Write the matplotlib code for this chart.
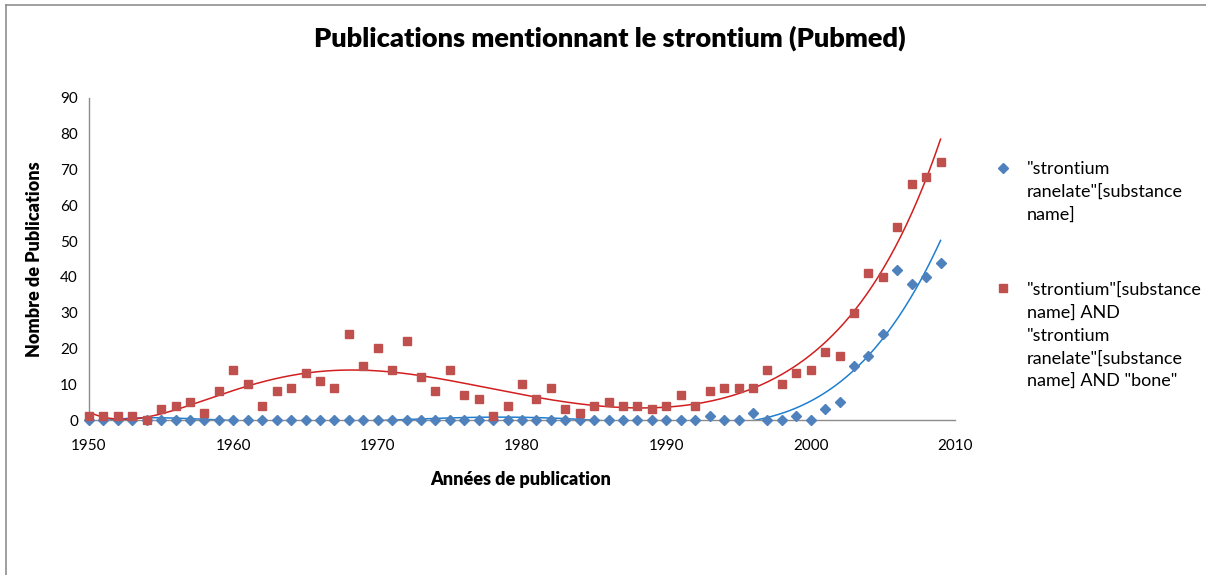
import numpy as np
import matplotlib
matplotlib.use("Agg")
import matplotlib.pyplot as plt
from matplotlib.lines import Line2D

plt.rcParams['font.family'] = ['Lato', 'DejaVu Sans']

years = list(range(1950, 2010))

ranelate = [0, 0, 0, 0, 0, 0, 0, 0, 0, 0,
            0, 0, 0, 0, 0, 0, 0, 0, 0, 0,
            0, 0, 0, 0, 0, 0, 0, 0, 0, 0,
            0, 0, 0, 0, 0, 0, 0, 0, 0, 0,
            0, 0, 0, 1, 0, 0, 2, 0, 0, 1,
            0, 3, 5, 15, 18, 24, 42, 38, 40, 44]

bone = [1, 1, 1, 1, 0, 3, 4, 5, 2, 8,
        14, 10, 4, 8, 9, 13, 11, 9, 24, 15,
        20, 14, 22, 12, 8, 14, 7, 6, 1, 4,
        10, 6, 9, 3, 2, 4, 5, 4, 4, 3,
        4, 7, 4, 8, 9, 9, 9, 14, 10, 13,
        14, 19, 18, 30, 41, 40, 54, 66, 68, 72]

label_ranelate = '"strontium\nranelate"[substance\nname]'
label_bone = '"strontium"[substance\nname] AND\n"strontium\nranelate"[substance\nname] AND "bone"'

title = "Publications mentionnant le strontium (Pubmed)"
xlabel = "Années de publication"
ylabel = "Nombre de Publications"
xticks = [1950, 1960, 1970, 1980, 1990, 2000, 2010]
yticks = [0, 10, 20, 30, 40, 50, 60, 70, 80, 90]

blue = "#4F81BD"
red = "#C0504D"
blue_trend = "#1E7FD0"
red_trend = "#D21E1E"
axis_grey = "#8C8C8C"

fig = plt.figure(figsize=(12.06, 5.75), dpi=100)
ax = fig.add_axes([89 / 1206, 1 - 420 / 575, (955 - 89) / 1206, (420 - 98) / 575])

x = np.array(years, dtype=float)


def poly_trend(values, degree=6):
    xc = (x - 1980.0) / 30.0
    coef = np.polyfit(xc, np.array(values, dtype=float), degree)
    xs = np.linspace(x[0], x[-1], 600)
    return xs, np.polyval(coef, (xs - 1980.0) / 30.0)


xs, ys = poly_trend(ranelate)
ax.plot(xs, ys, color=blue_trend, lw=1.1, zorder=2)
xs, ys = poly_trend(bone)
ax.plot(xs, ys, color=red_trend, lw=1.1, zorder=2)

ax.plot(years, ranelate, linestyle="none", marker="D", markersize=5,
        color=blue, markeredgecolor=blue, clip_on=False, zorder=3)
ax.plot(years, bone, linestyle="none", marker="s", markersize=6.2,
        color=red, markeredgecolor=red, clip_on=False, zorder=3)

ax.set_xlim(1950, 2010)
ax.set_ylim(0, 90)
ax.set_xticks(xticks)
ax.set_yticks(yticks)
ax.tick_params(length=0, labelsize=11, colors="black", pad=8)
ax.tick_params(axis="x", pad=14)
for side in ("top", "right"):
    ax.spines[side].set_visible(False)
for side in ("left", "bottom"):
    ax.spines[side].set_color(axis_grey)
    ax.spines[side].set_linewidth(1.0)

fig.text(610 / 1206, 1 - 38 / 575, title, ha="center", va="center",
         fontsize=19.5, fontweight="heavy")
fig.text(521 / 1206, 1 - 480 / 575, xlabel, ha="center", va="center",
         fontsize=13, fontweight="heavy")
fig.text(35 / 1206, 1 - 259 / 575, ylabel, ha="center", va="center",
         rotation=90, fontsize=13, fontweight="heavy")

# legend entries
fig.add_artist(Line2D([1003 / 1206], [1 - 168 / 575], marker="D", markersize=5,
                      color=blue, linestyle="none", transform=fig.transFigure))
fig.text(1027 / 1206, 1 - 161 / 575, label_ranelate, ha="left", va="top",
         fontsize=13, linespacing=1.5)
fig.add_artist(Line2D([1003 / 1206], [1 - 288 / 575], marker="s", markersize=6.2,
                      color=red, linestyle="none", transform=fig.transFigure))
fig.text(1027 / 1206, 1 - 282 / 575, label_bone, ha="left", va="top",
         fontsize=13, linespacing=1.5)

# chart frame
fig.add_artist(Line2D([6 / 1206, 6 / 1206], [0, 1 - 5 / 575], color="#8F8F8F",
                      lw=1.2, transform=fig.transFigure))
fig.add_artist(Line2D([6 / 1206, 1], [1 - 5 / 575, 1 - 5 / 575], color="#8F8F8F",
                      lw=1.2, transform=fig.transFigure))

fig.savefig("out.png", dpi=100)
